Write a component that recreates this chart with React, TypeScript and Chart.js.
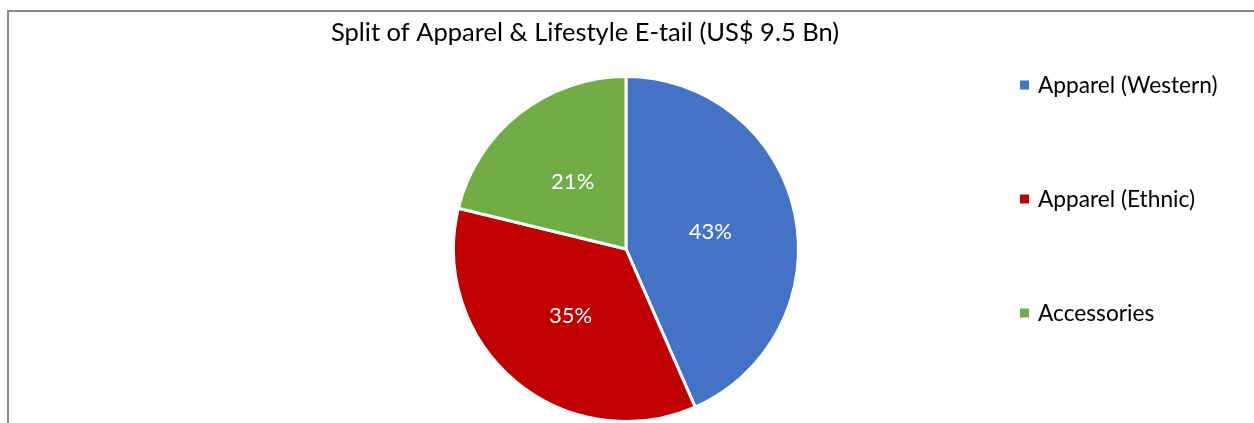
import React, { useEffect, useRef } from "react";
import { Chart, registerables } from "chart.js";

Chart.register(...registerables);

const TITLE = "Split of Apparel & Lifestyle E-tail (US$ 9.5 Bn)";
const categories = ["Apparel (Western)", "Apparel (Ethnic)", "Accessories"];
const shares = [43, 35, 21];
const colors = ["#4472C4", "#C00000", "#70AD47"];

const FONT = "Lato, 'Noto Sans', sans-serif";

const decorPlugin = {
  id: "decor",
  afterDraw(chart: any, _args: any, opts: any) {
    const ctx = chart.ctx;
    ctx.save();
    // title
    ctx.fillStyle = "#000";
    ctx.font = `${opts.titleSize}px ${FONT}`;
    ctx.textAlign = "center";
    ctx.textBaseline = "middle";
    ctx.fillText(TITLE, opts.titleX, opts.titleY);

    // slice labels
    const meta = chart.getDatasetMeta(0);
    ctx.font = `${opts.labelSize}px ${FONT}`;
    ctx.fillStyle = "#fff";
    meta.data.forEach((arc: any, i: number) => {
      const p = arc.getProps(["x", "y", "startAngle", "endAngle", "outerRadius"], true);
      const mid = (p.startAngle + p.endAngle) / 2;
      const r = p.outerRadius * opts.labelRadius;
      const v = chart.data.datasets[0].data[i];
      ctx.fillText(`${v}%`, p.x + Math.cos(mid) * r, p.y + Math.sin(mid) * r + 1);
    });

    // legend
    ctx.textAlign = "left";
    ctx.font = `${opts.legendSize}px ${FONT}`;
    const labels = chart.data.labels;
    const bg = chart.data.datasets[0].backgroundColor;
    labels.forEach((lab: string, i: number) => {
      const y = opts.legendTop + i * opts.legendGap;
      ctx.fillStyle = bg[i];
      ctx.fillRect(opts.legendX, y - opts.box / 2, opts.box, opts.box);
      ctx.fillStyle = "#000";
      ctx.fillText(lab, opts.legendX + opts.box + 9, y + 1);
    });
    ctx.restore();
  },
};

export default function App() {
  const ref = useRef<HTMLCanvasElement>(null);
  useEffect(() => {
    if (!ref.current) return;
    const chart = new Chart(ref.current, {
      type: "pie",
      data: {
        labels: categories,
        datasets: [
          {
            data: shares,
            backgroundColor: colors,
            borderColor: "#ffffff",
            borderWidth: 3,
          },
        ],
      },
      options: {
        responsive: false,
        animation: false,
        layout: { padding: { top: 63, bottom: 0, left: 0, right: 11 } },
        plugins: {
          legend: { display: false },
          title: { display: false },
          tooltip: { enabled: false },
          decor: {
            titleX: 576,
            titleY: 21,
            titleSize: 25.5,
            labelSize: 22,
            labelRadius: 0.5,
            legendSize: 22.7,
            legendX: 1011,
            legendTop: 73,
            legendGap: 114,
            box: 9,
          },
        } as any,
      },
      plugins: [decorPlugin],
    });
    return () => chart.destroy();
  }, []);
  return (
    <div
      style={{
        position: "fixed",
        left: 7,
        top: 10,
        width: 1247,
        height: 413,
        boxSizing: "border-box",
        borderLeft: "2px solid #8c8c8c",
        borderTop: "2px solid #8c8c8c",
        background: "#fff",
      }}
    >
      <canvas ref={ref} width={1245} height={411} style={{ display: "block" }} />
    </div>
  );
}
